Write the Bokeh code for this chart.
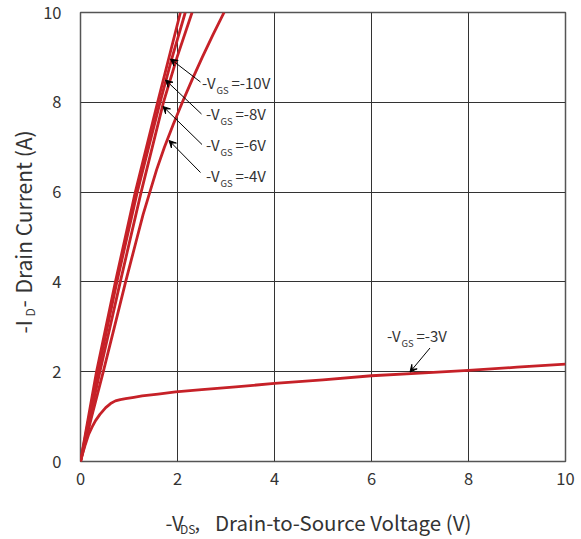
from math import pi
from bokeh.plotting import figure
from bokeh.layouts import column, row
from bokeh.models import Range1d, Label, Arrow, VeeHead, FixedTicker
from bokeh.embed import file_html
from bokeh.resources import INLINE

# ---- data ----
vds_10v = [0, 0.33, 0.72, 1.13, 1.59, 2.06]
id_10v = [0, 2, 4, 6, 8, 10]

vds_8v = [0, 0.36, 0.75, 1.17, 1.64, 1.89, 2.16]
id_8v = [0, 2, 4, 6, 8, 9, 10]

vds_6v = [0, 0.40, 0.82, 1.25, 1.71, 1.99, 2.30]
id_6v = [0, 2, 4, 6, 8, 9, 10]

vds_4v = [0, 0.23, 0.47, 0.70, 0.93, 1.05, 1.17, 1.29, 1.43, 1.57, 1.73, 1.91, 2.10,
          2.30, 2.51, 2.73, 2.96]
id_4v = [0, 1, 2, 3, 4, 4.5, 5, 5.5, 6, 6.5, 7, 7.5, 8, 8.5, 9, 9.5, 10]

vds_3v = [0, 0.05, 0.10, 0.17, 0.24, 0.31, 0.40, 0.52, 0.62, 0.72, 0.82, 0.93,
          1.10, 1.27, 1.60, 1.96, 2.5, 3.2, 4, 5, 6, 7, 8, 9, 10]
id_3v = [0, 0.20, 0.38, 0.61, 0.77, 0.91, 1.05, 1.20, 1.29, 1.35, 1.38, 1.40,
         1.43, 1.46, 1.50, 1.55, 1.60, 1.66, 1.74, 1.82, 1.91, 1.97, 2.03, 2.10, 2.17]

x_ticks = [0, 2, 4, 6, 8, 10]
y_ticks = [0, 2, 4, 6, 8, 10]

curve_labels = ["=-10V", "=-8V", "=-6V", "=-4V", "=-3V"]

# ---- layout constants (pixels) ----
W, H = 581, 539
LEFT_W = 40            # width of the strip holding the y title
BOTTOM_H = 44          # height of the strip holding the x title
FL, FR, FT, FB = 80, 565, 12, 461
MAIN_H = H - BOTTOM_H
FONT = "Noto Sans CJK SC"
TXT = "#333333"
RED = "#C62128"


def dx(px):
    return (px - FL) / (FR - FL) * 10.0


def dy(py):
    return (FB - py) / (FB - FT) * 10.0


def shift(size):
    # the label anchor lands a little above the drawn baseline with this font
    return 7.5 if size >= 14 else 0.5 * size


p = figure(width=W - LEFT_W, height=MAIN_H, output_backend="svg", toolbar_location=None,
           x_range=Range1d(0, 10), y_range=Range1d(0, 10),
           min_border_left=FL - LEFT_W, min_border_right=W - FR,
           min_border_top=FT, min_border_bottom=MAIN_H - FB)

p.outline_line_color = "#555555"
p.outline_line_width = 1.5
p.background_fill_color = "white"
p.border_fill_color = "white"

for ax, standoff in ((p.xaxis, 11), (p.yaxis, 19)):
    ax.major_tick_line_color = None
    ax.minor_tick_line_color = None
    ax.major_tick_out = 0
    ax.major_tick_in = 0
    ax.axis_line_color = None
    ax.major_label_text_font = FONT
    ax.major_label_text_font_size = "16.5px"
    ax.major_label_text_color = TXT
    ax.major_label_standoff = standoff

p.xaxis.ticker = FixedTicker(ticks=x_ticks)
p.yaxis.ticker = FixedTicker(ticks=y_ticks)

p.xgrid.ticker = FixedTicker(ticks=x_ticks)
p.ygrid.ticker = FixedTicker(ticks=y_ticks)
p.grid.grid_line_color = "#333333"
p.grid.grid_line_width = 1
p.grid.grid_line_alpha = 1.0

for xs, ys in ((vds_4v, id_4v), (vds_6v, id_6v), (vds_8v, id_8v),
               (vds_10v, id_10v), (vds_3v, id_3v)):
    p.line(xs, ys, line_color=RED, line_width=2.8, line_join="round")


def sub_label(fig, fx, fy, x0, base, parts):
    # parts: (text, dx from x0, dy from baseline, font size in px)
    for txt, ox, oy, sz in parts:
        fig.add_layout(Label(x=fx(x0 + ox), y=fy(base + oy - shift(sz)), text=txt,
                             text_font=FONT, text_font_size=f"{sz}px", text_color=TXT,
                             text_align="left", text_baseline="alphabetic"))


# curve annotations: (text x, baseline, arrow tail, arrow head) in pixels
ann = [
    (201.5, 89.5, (200, 81.5), (170, 58.5)),
    (205.5, 120.5, (201, 113.5), (165, 79.5)),
    (205.5, 151.5, (201.5, 144), (162.5, 106)),
    (205.5, 182.0, (200, 172), (168.5, 140)),
    (386.5, 342.5, (429.5, 347.5), (409.5, 371.5)),
]
for (tx, tb, (ax0, ay0), (ax1, ay1)), lab in zip(ann, curve_labels):
    sub_label(p, dx, dy, tx, tb, (("-V", 0, 0, 15), ("GS", 14.5, 5, 9.5),
                                  (lab, 29.5, 0, 15)))
    p.add_layout(Arrow(x_start=dx(ax0), y_start=dy(ay0), x_end=dx(ax1), y_end=dy(ay1),
                       line_color="black", line_width=1,
                       end=VeeHead(size=7, line_color="black", line_width=1,
                                   fill_color="black")))


def strip(width, height, y_range):
    f = figure(width=width, height=height, output_backend="svg", toolbar_location=None,
               x_range=Range1d(0, width), y_range=y_range,
               x_axis_location=None, y_axis_location=None,
               min_border=0, min_border_left=0, min_border_right=0,
               min_border_top=0, min_border_bottom=0)
    f.outline_line_color = None
    f.grid.visible = False
    f.background_fill_color = "white"
    f.border_fill_color = "white"
    return f


# x axis title strip (below the main figure)
xs_fig = strip(W, BOTTOM_H, Range1d(BOTTOM_H, 0))
sub_label(xs_fig, lambda v: v, lambda v: v - MAIN_H, 165, 529,
          (("-V", 0, 0, 20), ("DS", 14.5, 4.5, 12), (",", 29, 0, 20),
           ("Drain-to-Source Voltage (V)", 49.5, 0, 20.5)))

# y axis title strip (left of the main figure, its frame lines up with the plot frame)
ys_fig = strip(LEFT_W, MAIN_H, p.y_range)
for txt, base_x, yy, sz in (("-I", 30, 333, 21), ("D", 35, 316, 12),
                            ("-", 30, 307, 21), ("Drain Current (A)", 30, 293, 21)):
    ys_fig.add_layout(Label(x=base_x - shift(sz), y=dy(yy), text=txt, text_font=FONT,
                            text_font_size=f"{sz}px", text_color=TXT, angle=pi / 2,
                            text_align="left", text_baseline="alphabetic"))

layout = column(row(ys_fig, p, spacing=0), xs_fig, spacing=0)

open("out.html", "w").write(file_html(layout, INLINE))
